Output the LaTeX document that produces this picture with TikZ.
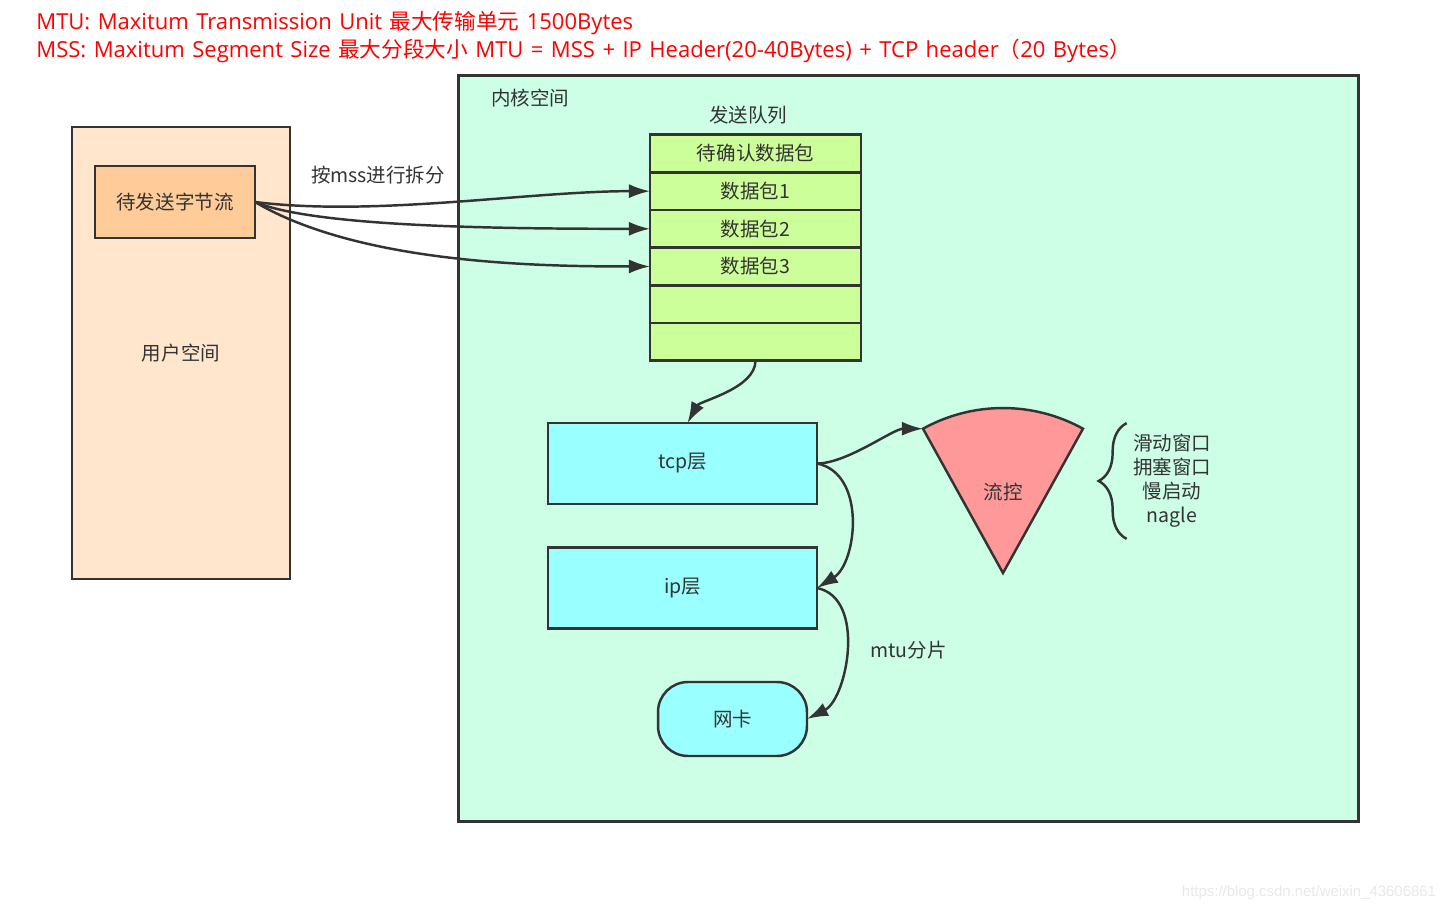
\documentclass[tikz,border=0pt]{standalone}
\usepackage{fontspec}
\setmainfont{Noto Sans CJK SC}
\newfontfamily\latin[Scale=1.02, WordSpace=1.3]{Open Sans}
\newfontfamily\markfont{Liberation Sans}
\usepackage{tikz}
\usetikzlibrary{arrows.meta, positioning, decorations.pathreplacing}
\definecolor{edge}{HTML}{333333}
\definecolor{ink}{HTML}{333333}
\definecolor{userbg}{HTML}{FFE6CC}
\definecolor{srcbg}{HTML}{FFCC99}
\definecolor{kernbg}{HTML}{CCFFE6}
\definecolor{queuebg}{HTML}{CCFF99}
\definecolor{layerbg}{HTML}{99FFFF}
\definecolor{fanbg}{HTML}{FF9999}
\tikzset{
  box/.style={draw=edge, line width=1.4pt, rectangle, inner sep=0pt, outer sep=0pt},
  cell/.style={box, fill=queuebg, minimum width=4.22cm, minimum height=0.7533cm},
  layer/.style={box, fill=layerbg, minimum width=5.38cm, minimum height=1.62cm},
  flow/.style={-{Latex[length=12pt, width=8pt]}, line width=1.4pt, draw=edge},
  brace/.style={decorate, decoration={brace, amplitude=0.56cm}, line width=1.4pt, draw=edge},
  title/.style={anchor=west, text=red, font=\fontsize{12.3}{15}\selectfont, inner sep=0pt},
}

\begin{document}
\begin{tikzpicture}[x=0.02cm, y=-0.02cm, font=\fontsize{11.1}{13.6}\selectfont, text=ink]
  \useasboundingbox (0,0) rectangle (1448,912);
  \node[title] (mtu) at (36,23) {{\latin MTU: Maxitum Transmission Unit }最大传输单元{\latin\ 1500Bytes}};
  \node[title] (mss) at (36,51) {{\latin MSS: Maxitum Segment Size }最大分段大小{\latin\ MTU = MSS + IP Header(20-40Bytes) + TCP header}（{\latin 20 Bytes}）};

  \node[box, fill=userbg, minimum width=4.36cm, minimum height=9.04cm] (user) at (181,353) {用户空间};
  \node[box, fill=srcbg, minimum width=3.2cm, minimum height=1.44cm] (src) at (175,202) {待发送字节流};

  \node[box, fill=kernbg, line width=1.7pt, minimum width=18.02cm, minimum height=14.94cm] (kern) at (908.5,448.5) {};
  \node (kernlbl) at (530,98) {内核空间};
  \node (qlbl) at (748,115) {发送队列};

  \node[cell] (q0) at (755.5,153.5) {待确认数据包};
  \node[cell, below=0pt of q0] (q1) {数据包1};
  \node[cell, below=0pt of q1] (q2) {数据包2};
  \node[cell, below=0pt of q2] (q3) {数据包3};
  \node[cell, below=0pt of q3] (q4) {};
  \node[cell, below=0pt of q4] (q5) {};

  \node (lblmss) at (378,175) {按mss进行拆分};
  \draw[flow] (src.east) .. controls +(120,15) and +(-120,0) .. (q1.west);
  \draw[flow] (src.east) .. controls +(60,25) and +(-150,0) .. (q2.west);
  \draw[flow] (src.east) .. controls +(105,62) and +(-110,0) .. (q3.west);

  \node[layer] (tcp) at (682.5,463.5) {tcp层};
  \node[layer] (ip) at (682.5,588) {ip层};
  \node[box, fill=layerbg, rounded corners=0.6cm, minimum width=2.98cm, minimum height=1.48cm] (nic) at (732.5,719) {网卡};

  \coordinate (apex) at (1003,573);
  \filldraw[fill=fanbg, draw=edge, line width=1.4pt] (apex) -- ++(119:3.3cm) coordinate (fanl)
    arc[start angle=119, end angle=61, radius=3.3cm] -- cycle;
  \node (ctl) at (1003,492) {流控};
  \node[align=center, inner sep=0.12cm] (opts) at (1172,481) {滑动窗口\\拥塞窗口\\慢启动\\nagle};
  \draw[brace] ([yshift=-0.1cm]opts.south west) -- ([yshift=0.1cm]opts.north west);

  \draw[flow] (q5.south) .. controls +(0,28) and +(12,-22) .. ([xshift=0.1cm]tcp.north);
  \draw[flow] (tcp.east) .. controls +(30,0) and +(-30,0) .. (fanl);
  \draw[flow] (tcp.east) .. controls +(50,10) and +(40,-25) .. (ip.east);
  \draw[flow] (ip.east) .. controls +(50,10) and +(40,-20) .. node[pos=0.5, right=0.35cm] (lblmtu) {mtu分片} (nic.east);

  \node[text=black!9, font=\markfont\fontsize{8.5}{10}\selectfont] (mark) at (1309,893) {https://blog.csdn.net/weixin\_43606861};
\end{tikzpicture}
\end{document}
